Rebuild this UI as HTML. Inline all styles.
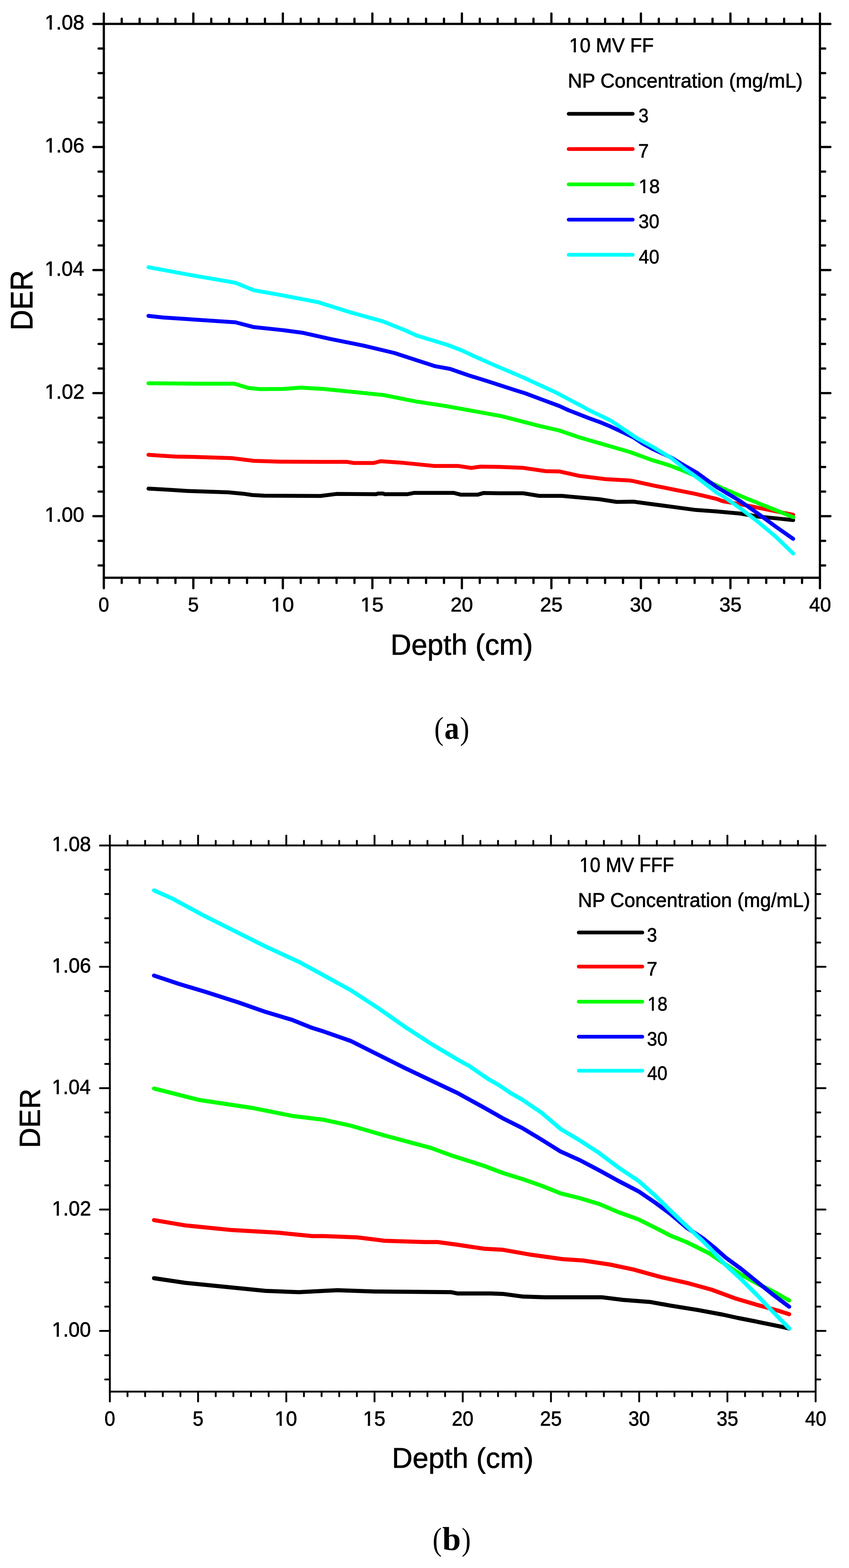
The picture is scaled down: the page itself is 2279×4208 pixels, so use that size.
<!DOCTYPE html><html><head><meta charset="utf-8"><title>DER vs Depth</title><style>html,body{margin:0;padding:0;background:#fff;}svg{display:block;}text{fill:#000;}</style></head><body>
<svg width="2279" height="4208" viewBox="0 0 2279 4208">
<rect width="2279" height="4208" fill="#fff"/>
<line x1="278.70" y1="1550.49" x2="278.70" y2="1578.49" stroke="#000" stroke-width="6.0" stroke-linecap="round"/>
<line x1="278.70" y1="64.13" x2="278.70" y2="36.13" stroke="#000" stroke-width="6.0" stroke-linecap="round"/>
<line x1="326.76" y1="1550.49" x2="326.76" y2="1564.49" stroke="#000" stroke-width="6.0" stroke-linecap="round"/>
<line x1="326.76" y1="64.13" x2="326.76" y2="50.13" stroke="#000" stroke-width="6.0" stroke-linecap="round"/>
<line x1="374.81" y1="1550.49" x2="374.81" y2="1564.49" stroke="#000" stroke-width="6.0" stroke-linecap="round"/>
<line x1="374.81" y1="64.13" x2="374.81" y2="50.13" stroke="#000" stroke-width="6.0" stroke-linecap="round"/>
<line x1="422.87" y1="1550.49" x2="422.87" y2="1564.49" stroke="#000" stroke-width="6.0" stroke-linecap="round"/>
<line x1="422.87" y1="64.13" x2="422.87" y2="50.13" stroke="#000" stroke-width="6.0" stroke-linecap="round"/>
<line x1="470.93" y1="1550.49" x2="470.93" y2="1564.49" stroke="#000" stroke-width="6.0" stroke-linecap="round"/>
<line x1="470.93" y1="64.13" x2="470.93" y2="50.13" stroke="#000" stroke-width="6.0" stroke-linecap="round"/>
<line x1="518.99" y1="1550.49" x2="518.99" y2="1578.49" stroke="#000" stroke-width="6.0" stroke-linecap="round"/>
<line x1="518.99" y1="64.13" x2="518.99" y2="36.13" stroke="#000" stroke-width="6.0" stroke-linecap="round"/>
<line x1="567.04" y1="1550.49" x2="567.04" y2="1564.49" stroke="#000" stroke-width="6.0" stroke-linecap="round"/>
<line x1="567.04" y1="64.13" x2="567.04" y2="50.13" stroke="#000" stroke-width="6.0" stroke-linecap="round"/>
<line x1="615.10" y1="1550.49" x2="615.10" y2="1564.49" stroke="#000" stroke-width="6.0" stroke-linecap="round"/>
<line x1="615.10" y1="64.13" x2="615.10" y2="50.13" stroke="#000" stroke-width="6.0" stroke-linecap="round"/>
<line x1="663.16" y1="1550.49" x2="663.16" y2="1564.49" stroke="#000" stroke-width="6.0" stroke-linecap="round"/>
<line x1="663.16" y1="64.13" x2="663.16" y2="50.13" stroke="#000" stroke-width="6.0" stroke-linecap="round"/>
<line x1="711.22" y1="1550.49" x2="711.22" y2="1564.49" stroke="#000" stroke-width="6.0" stroke-linecap="round"/>
<line x1="711.22" y1="64.13" x2="711.22" y2="50.13" stroke="#000" stroke-width="6.0" stroke-linecap="round"/>
<line x1="759.27" y1="1550.49" x2="759.27" y2="1578.49" stroke="#000" stroke-width="6.0" stroke-linecap="round"/>
<line x1="759.27" y1="64.13" x2="759.27" y2="36.13" stroke="#000" stroke-width="6.0" stroke-linecap="round"/>
<line x1="807.33" y1="1550.49" x2="807.33" y2="1564.49" stroke="#000" stroke-width="6.0" stroke-linecap="round"/>
<line x1="807.33" y1="64.13" x2="807.33" y2="50.13" stroke="#000" stroke-width="6.0" stroke-linecap="round"/>
<line x1="855.39" y1="1550.49" x2="855.39" y2="1564.49" stroke="#000" stroke-width="6.0" stroke-linecap="round"/>
<line x1="855.39" y1="64.13" x2="855.39" y2="50.13" stroke="#000" stroke-width="6.0" stroke-linecap="round"/>
<line x1="903.45" y1="1550.49" x2="903.45" y2="1564.49" stroke="#000" stroke-width="6.0" stroke-linecap="round"/>
<line x1="903.45" y1="64.13" x2="903.45" y2="50.13" stroke="#000" stroke-width="6.0" stroke-linecap="round"/>
<line x1="951.51" y1="1550.49" x2="951.51" y2="1564.49" stroke="#000" stroke-width="6.0" stroke-linecap="round"/>
<line x1="951.51" y1="64.13" x2="951.51" y2="50.13" stroke="#000" stroke-width="6.0" stroke-linecap="round"/>
<line x1="999.56" y1="1550.49" x2="999.56" y2="1578.49" stroke="#000" stroke-width="6.0" stroke-linecap="round"/>
<line x1="999.56" y1="64.13" x2="999.56" y2="36.13" stroke="#000" stroke-width="6.0" stroke-linecap="round"/>
<line x1="1047.62" y1="1550.49" x2="1047.62" y2="1564.49" stroke="#000" stroke-width="6.0" stroke-linecap="round"/>
<line x1="1047.62" y1="64.13" x2="1047.62" y2="50.13" stroke="#000" stroke-width="6.0" stroke-linecap="round"/>
<line x1="1095.68" y1="1550.49" x2="1095.68" y2="1564.49" stroke="#000" stroke-width="6.0" stroke-linecap="round"/>
<line x1="1095.68" y1="64.13" x2="1095.68" y2="50.13" stroke="#000" stroke-width="6.0" stroke-linecap="round"/>
<line x1="1143.74" y1="1550.49" x2="1143.74" y2="1564.49" stroke="#000" stroke-width="6.0" stroke-linecap="round"/>
<line x1="1143.74" y1="64.13" x2="1143.74" y2="50.13" stroke="#000" stroke-width="6.0" stroke-linecap="round"/>
<line x1="1191.79" y1="1550.49" x2="1191.79" y2="1564.49" stroke="#000" stroke-width="6.0" stroke-linecap="round"/>
<line x1="1191.79" y1="64.13" x2="1191.79" y2="50.13" stroke="#000" stroke-width="6.0" stroke-linecap="round"/>
<line x1="1239.85" y1="1550.49" x2="1239.85" y2="1578.49" stroke="#000" stroke-width="6.0" stroke-linecap="round"/>
<line x1="1239.85" y1="64.13" x2="1239.85" y2="36.13" stroke="#000" stroke-width="6.0" stroke-linecap="round"/>
<line x1="1287.91" y1="1550.49" x2="1287.91" y2="1564.49" stroke="#000" stroke-width="6.0" stroke-linecap="round"/>
<line x1="1287.91" y1="64.13" x2="1287.91" y2="50.13" stroke="#000" stroke-width="6.0" stroke-linecap="round"/>
<line x1="1335.96" y1="1550.49" x2="1335.96" y2="1564.49" stroke="#000" stroke-width="6.0" stroke-linecap="round"/>
<line x1="1335.96" y1="64.13" x2="1335.96" y2="50.13" stroke="#000" stroke-width="6.0" stroke-linecap="round"/>
<line x1="1384.02" y1="1550.49" x2="1384.02" y2="1564.49" stroke="#000" stroke-width="6.0" stroke-linecap="round"/>
<line x1="1384.02" y1="64.13" x2="1384.02" y2="50.13" stroke="#000" stroke-width="6.0" stroke-linecap="round"/>
<line x1="1432.08" y1="1550.49" x2="1432.08" y2="1564.49" stroke="#000" stroke-width="6.0" stroke-linecap="round"/>
<line x1="1432.08" y1="64.13" x2="1432.08" y2="50.13" stroke="#000" stroke-width="6.0" stroke-linecap="round"/>
<line x1="1480.14" y1="1550.49" x2="1480.14" y2="1578.49" stroke="#000" stroke-width="6.0" stroke-linecap="round"/>
<line x1="1480.14" y1="64.13" x2="1480.14" y2="36.13" stroke="#000" stroke-width="6.0" stroke-linecap="round"/>
<line x1="1528.19" y1="1550.49" x2="1528.19" y2="1564.49" stroke="#000" stroke-width="6.0" stroke-linecap="round"/>
<line x1="1528.19" y1="64.13" x2="1528.19" y2="50.13" stroke="#000" stroke-width="6.0" stroke-linecap="round"/>
<line x1="1576.25" y1="1550.49" x2="1576.25" y2="1564.49" stroke="#000" stroke-width="6.0" stroke-linecap="round"/>
<line x1="1576.25" y1="64.13" x2="1576.25" y2="50.13" stroke="#000" stroke-width="6.0" stroke-linecap="round"/>
<line x1="1624.31" y1="1550.49" x2="1624.31" y2="1564.49" stroke="#000" stroke-width="6.0" stroke-linecap="round"/>
<line x1="1624.31" y1="64.13" x2="1624.31" y2="50.13" stroke="#000" stroke-width="6.0" stroke-linecap="round"/>
<line x1="1672.37" y1="1550.49" x2="1672.37" y2="1564.49" stroke="#000" stroke-width="6.0" stroke-linecap="round"/>
<line x1="1672.37" y1="64.13" x2="1672.37" y2="50.13" stroke="#000" stroke-width="6.0" stroke-linecap="round"/>
<line x1="1720.42" y1="1550.49" x2="1720.42" y2="1578.49" stroke="#000" stroke-width="6.0" stroke-linecap="round"/>
<line x1="1720.42" y1="64.13" x2="1720.42" y2="36.13" stroke="#000" stroke-width="6.0" stroke-linecap="round"/>
<line x1="1768.48" y1="1550.49" x2="1768.48" y2="1564.49" stroke="#000" stroke-width="6.0" stroke-linecap="round"/>
<line x1="1768.48" y1="64.13" x2="1768.48" y2="50.13" stroke="#000" stroke-width="6.0" stroke-linecap="round"/>
<line x1="1816.54" y1="1550.49" x2="1816.54" y2="1564.49" stroke="#000" stroke-width="6.0" stroke-linecap="round"/>
<line x1="1816.54" y1="64.13" x2="1816.54" y2="50.13" stroke="#000" stroke-width="6.0" stroke-linecap="round"/>
<line x1="1864.60" y1="1550.49" x2="1864.60" y2="1564.49" stroke="#000" stroke-width="6.0" stroke-linecap="round"/>
<line x1="1864.60" y1="64.13" x2="1864.60" y2="50.13" stroke="#000" stroke-width="6.0" stroke-linecap="round"/>
<line x1="1912.65" y1="1550.49" x2="1912.65" y2="1564.49" stroke="#000" stroke-width="6.0" stroke-linecap="round"/>
<line x1="1912.65" y1="64.13" x2="1912.65" y2="50.13" stroke="#000" stroke-width="6.0" stroke-linecap="round"/>
<line x1="1960.71" y1="1550.49" x2="1960.71" y2="1578.49" stroke="#000" stroke-width="6.0" stroke-linecap="round"/>
<line x1="1960.71" y1="64.13" x2="1960.71" y2="36.13" stroke="#000" stroke-width="6.0" stroke-linecap="round"/>
<line x1="2008.77" y1="1550.49" x2="2008.77" y2="1564.49" stroke="#000" stroke-width="6.0" stroke-linecap="round"/>
<line x1="2008.77" y1="64.13" x2="2008.77" y2="50.13" stroke="#000" stroke-width="6.0" stroke-linecap="round"/>
<line x1="2056.83" y1="1550.49" x2="2056.83" y2="1564.49" stroke="#000" stroke-width="6.0" stroke-linecap="round"/>
<line x1="2056.83" y1="64.13" x2="2056.83" y2="50.13" stroke="#000" stroke-width="6.0" stroke-linecap="round"/>
<line x1="2104.88" y1="1550.49" x2="2104.88" y2="1564.49" stroke="#000" stroke-width="6.0" stroke-linecap="round"/>
<line x1="2104.88" y1="64.13" x2="2104.88" y2="50.13" stroke="#000" stroke-width="6.0" stroke-linecap="round"/>
<line x1="2152.94" y1="1550.49" x2="2152.94" y2="1564.49" stroke="#000" stroke-width="6.0" stroke-linecap="round"/>
<line x1="2152.94" y1="64.13" x2="2152.94" y2="50.13" stroke="#000" stroke-width="6.0" stroke-linecap="round"/>
<line x1="2201.00" y1="1550.49" x2="2201.00" y2="1578.49" stroke="#000" stroke-width="6.0" stroke-linecap="round"/>
<line x1="2201.00" y1="64.13" x2="2201.00" y2="36.13" stroke="#000" stroke-width="6.0" stroke-linecap="round"/>
<line x1="278.70" y1="1517.46" x2="264.70" y2="1517.46" stroke="#000" stroke-width="6.0" stroke-linecap="round"/>
<line x1="2201.00" y1="1517.46" x2="2215.00" y2="1517.46" stroke="#000" stroke-width="6.0" stroke-linecap="round"/>
<line x1="278.70" y1="1451.40" x2="264.70" y2="1451.40" stroke="#000" stroke-width="6.0" stroke-linecap="round"/>
<line x1="2201.00" y1="1451.40" x2="2215.00" y2="1451.40" stroke="#000" stroke-width="6.0" stroke-linecap="round"/>
<line x1="278.70" y1="1385.34" x2="250.70" y2="1385.34" stroke="#000" stroke-width="6.0" stroke-linecap="round"/>
<line x1="2201.00" y1="1385.34" x2="2229.00" y2="1385.34" stroke="#000" stroke-width="6.0" stroke-linecap="round"/>
<line x1="278.70" y1="1319.28" x2="264.70" y2="1319.28" stroke="#000" stroke-width="6.0" stroke-linecap="round"/>
<line x1="2201.00" y1="1319.28" x2="2215.00" y2="1319.28" stroke="#000" stroke-width="6.0" stroke-linecap="round"/>
<line x1="278.70" y1="1253.22" x2="264.70" y2="1253.22" stroke="#000" stroke-width="6.0" stroke-linecap="round"/>
<line x1="2201.00" y1="1253.22" x2="2215.00" y2="1253.22" stroke="#000" stroke-width="6.0" stroke-linecap="round"/>
<line x1="278.70" y1="1187.16" x2="264.70" y2="1187.16" stroke="#000" stroke-width="6.0" stroke-linecap="round"/>
<line x1="2201.00" y1="1187.16" x2="2215.00" y2="1187.16" stroke="#000" stroke-width="6.0" stroke-linecap="round"/>
<line x1="278.70" y1="1121.10" x2="264.70" y2="1121.10" stroke="#000" stroke-width="6.0" stroke-linecap="round"/>
<line x1="2201.00" y1="1121.10" x2="2215.00" y2="1121.10" stroke="#000" stroke-width="6.0" stroke-linecap="round"/>
<line x1="278.70" y1="1055.04" x2="250.70" y2="1055.04" stroke="#000" stroke-width="6.0" stroke-linecap="round"/>
<line x1="2201.00" y1="1055.04" x2="2229.00" y2="1055.04" stroke="#000" stroke-width="6.0" stroke-linecap="round"/>
<line x1="278.70" y1="988.98" x2="264.70" y2="988.98" stroke="#000" stroke-width="6.0" stroke-linecap="round"/>
<line x1="2201.00" y1="988.98" x2="2215.00" y2="988.98" stroke="#000" stroke-width="6.0" stroke-linecap="round"/>
<line x1="278.70" y1="922.92" x2="264.70" y2="922.92" stroke="#000" stroke-width="6.0" stroke-linecap="round"/>
<line x1="2201.00" y1="922.92" x2="2215.00" y2="922.92" stroke="#000" stroke-width="6.0" stroke-linecap="round"/>
<line x1="278.70" y1="856.86" x2="264.70" y2="856.86" stroke="#000" stroke-width="6.0" stroke-linecap="round"/>
<line x1="2201.00" y1="856.86" x2="2215.00" y2="856.86" stroke="#000" stroke-width="6.0" stroke-linecap="round"/>
<line x1="278.70" y1="790.80" x2="264.70" y2="790.80" stroke="#000" stroke-width="6.0" stroke-linecap="round"/>
<line x1="2201.00" y1="790.80" x2="2215.00" y2="790.80" stroke="#000" stroke-width="6.0" stroke-linecap="round"/>
<line x1="278.70" y1="724.74" x2="250.70" y2="724.74" stroke="#000" stroke-width="6.0" stroke-linecap="round"/>
<line x1="2201.00" y1="724.74" x2="2229.00" y2="724.74" stroke="#000" stroke-width="6.0" stroke-linecap="round"/>
<line x1="278.70" y1="658.68" x2="264.70" y2="658.68" stroke="#000" stroke-width="6.0" stroke-linecap="round"/>
<line x1="2201.00" y1="658.68" x2="2215.00" y2="658.68" stroke="#000" stroke-width="6.0" stroke-linecap="round"/>
<line x1="278.70" y1="592.62" x2="264.70" y2="592.62" stroke="#000" stroke-width="6.0" stroke-linecap="round"/>
<line x1="2201.00" y1="592.62" x2="2215.00" y2="592.62" stroke="#000" stroke-width="6.0" stroke-linecap="round"/>
<line x1="278.70" y1="526.56" x2="264.70" y2="526.56" stroke="#000" stroke-width="6.0" stroke-linecap="round"/>
<line x1="2201.00" y1="526.56" x2="2215.00" y2="526.56" stroke="#000" stroke-width="6.0" stroke-linecap="round"/>
<line x1="278.70" y1="460.50" x2="264.70" y2="460.50" stroke="#000" stroke-width="6.0" stroke-linecap="round"/>
<line x1="2201.00" y1="460.50" x2="2215.00" y2="460.50" stroke="#000" stroke-width="6.0" stroke-linecap="round"/>
<line x1="278.70" y1="394.44" x2="250.70" y2="394.44" stroke="#000" stroke-width="6.0" stroke-linecap="round"/>
<line x1="2201.00" y1="394.44" x2="2229.00" y2="394.44" stroke="#000" stroke-width="6.0" stroke-linecap="round"/>
<line x1="278.70" y1="328.38" x2="264.70" y2="328.38" stroke="#000" stroke-width="6.0" stroke-linecap="round"/>
<line x1="2201.00" y1="328.38" x2="2215.00" y2="328.38" stroke="#000" stroke-width="6.0" stroke-linecap="round"/>
<line x1="278.70" y1="262.32" x2="264.70" y2="262.32" stroke="#000" stroke-width="6.0" stroke-linecap="round"/>
<line x1="2201.00" y1="262.32" x2="2215.00" y2="262.32" stroke="#000" stroke-width="6.0" stroke-linecap="round"/>
<line x1="278.70" y1="196.25" x2="264.70" y2="196.25" stroke="#000" stroke-width="6.0" stroke-linecap="round"/>
<line x1="2201.00" y1="196.25" x2="2215.00" y2="196.25" stroke="#000" stroke-width="6.0" stroke-linecap="round"/>
<line x1="278.70" y1="130.19" x2="264.70" y2="130.19" stroke="#000" stroke-width="6.0" stroke-linecap="round"/>
<line x1="2201.00" y1="130.19" x2="2215.00" y2="130.19" stroke="#000" stroke-width="6.0" stroke-linecap="round"/>
<line x1="278.70" y1="64.13" x2="250.70" y2="64.13" stroke="#000" stroke-width="6.0" stroke-linecap="round"/>
<line x1="2201.00" y1="64.13" x2="2229.00" y2="64.13" stroke="#000" stroke-width="6.0" stroke-linecap="round"/>
<rect x="278.70" y="64.13" width="1922.30" height="1486.36" fill="none" stroke="#000" stroke-width="6.0"/>
<polyline points="398.5,1311.3 451.7,1314.2 505.4,1317.7 613.0,1321.3 652.4,1324.9 677.5,1328.5 709.7,1330.3 860.0,1331.0 903.0,1325.6 1010.5,1326.2 1015.0,1324.4 1028.0,1324.4 1033.0,1326.3 1093.0,1326.3 1110.9,1322.8 1218.4,1322.8 1236.3,1327.4 1283.0,1327.4 1297.3,1323.1 1340.0,1323.7 1404.5,1323.7 1447.5,1330.8 1508.5,1330.8 1608.8,1339.8 1655.4,1347.0 1700.0,1346.2 1755.9,1353.7 1811.8,1361.1 1867.8,1368.6 1923.7,1372.5 1940.0,1374.0 1987.3,1378.3 2034.6,1386.2 2081.9,1390.9 2129.2,1395.7" fill="none" stroke="#000000" stroke-width="10.5" stroke-linejoin="round" stroke-linecap="round"/>
<polyline points="398.5,1220.6 415.8,1221.7 469.6,1225.3 523.4,1226.3 623.7,1229.6 681.1,1236.7 752.8,1238.9 860.0,1239.6 931.7,1239.6 949.6,1242.5 1003.4,1242.5 1021.3,1237.8 1075.0,1241.4 1164.7,1250.4 1229.2,1250.4 1265.0,1255.7 1290.1,1252.2 1340.0,1253.0 1404.5,1255.6 1465.4,1264.5 1501.3,1265.2 1555.0,1277.1 1626.7,1286.0 1691.3,1289.6 1700.0,1291.2 1755.9,1303.3 1811.8,1314.5 1867.8,1325.7 1923.7,1338.8 1940.0,1345.0 2003.1,1356.2 2066.2,1368.9 2129.2,1381.5" fill="none" stroke="#ff0000" stroke-width="10.5" stroke-linejoin="round" stroke-linecap="round"/>
<polyline points="398.5,1028.5 537.7,1029.8 629.5,1029.8 666.7,1041.3 698.3,1044.2 760.0,1043.8 806.6,1040.2 867.5,1043.8 957.1,1052.8 1028.8,1060.0 1118.4,1077.8 1190.1,1088.6 1240.0,1097.5 1347.5,1117.2 1445.0,1142.3 1500.0,1155.0 1556.0,1174.0 1611.8,1190.1 1640.0,1198.2 1691.6,1213.2 1750.0,1234.6 1793.0,1247.5 1836.0,1263.9 1905.0,1294.0 1940.0,1310.5 2003.1,1337.3 2066.2,1362.5 2129.2,1387.8" fill="none" stroke="#00ff00" stroke-width="10.5" stroke-linejoin="round" stroke-linecap="round"/>
<polyline points="398.5,847.7 437.3,852.0 632.3,865.0 681.1,877.8 760.0,886.1 813.8,893.3 885.4,909.4 975.0,927.3 1057.5,947.0 1118.4,966.7 1168.6,982.9 1208.0,990.0 1260.0,1008.0 1311.7,1024.0 1383.4,1047.3 1410.0,1055.5 1455.0,1072.4 1500.0,1089.0 1526.7,1101.1 1580.0,1121.9 1610.0,1132.7 1640.0,1145.2 1674.4,1161.2 1700.2,1173.7 1726.0,1190.9 1750.0,1204.0 1801.6,1228.0 1836.0,1248.8 1870.0,1268.2 1923.7,1307.1 1940.0,1316.8 1987.3,1345.0 2034.6,1378.3 2081.9,1413.0 2129.2,1446.1" fill="none" stroke="#0000ff" stroke-width="10.5" stroke-linejoin="round" stroke-linecap="round"/>
<polyline points="398.5,717.2 523.4,740.2 632.3,758.9 681.1,778.9 760.0,792.9 853.2,810.8 939.2,837.7 1028.8,862.8 1082.6,884.3 1118.4,900.4 1200.9,925.5 1240.0,940.5 1268.7,954.1 1329.6,981.0 1401.3,1011.5 1490.9,1052.7 1562.6,1090.3 1580.0,1100.2 1610.0,1114.4 1640.0,1129.0 1674.4,1152.2 1708.8,1175.4 1750.0,1198.0 1801.6,1229.0 1836.0,1256.6 1870.0,1280.6 1923.7,1322.0 1940.0,1331.0 1987.3,1364.1 2034.6,1400.4 2081.9,1439.8 2129.2,1485.6" fill="none" stroke="#00ffff" stroke-width="10.5" stroke-linejoin="round" stroke-linecap="round"/>
<line x1="1526.50" y1="305.50" x2="1698.50" y2="305.50" stroke="#000000" stroke-width="10" stroke-linecap="round"/>
<line x1="1526.50" y1="400.10" x2="1698.50" y2="400.10" stroke="#ff0000" stroke-width="10" stroke-linecap="round"/>
<line x1="1526.50" y1="494.80" x2="1698.50" y2="494.80" stroke="#00ff00" stroke-width="10" stroke-linecap="round"/>
<line x1="1526.50" y1="589.50" x2="1698.50" y2="589.50" stroke="#0000ff" stroke-width="10" stroke-linecap="round"/>
<line x1="1526.50" y1="683.70" x2="1698.50" y2="683.70" stroke="#00ffff" stroke-width="10" stroke-linecap="round"/>
<line x1="294.90" y1="3734.62" x2="294.90" y2="3761.12" stroke="#000" stroke-width="5.0" stroke-linecap="round"/>
<line x1="294.90" y1="2268.89" x2="294.90" y2="2242.39" stroke="#000" stroke-width="5.0" stroke-linecap="round"/>
<line x1="342.26" y1="3734.62" x2="342.26" y2="3747.12" stroke="#000" stroke-width="5.0" stroke-linecap="round"/>
<line x1="342.26" y1="2268.89" x2="342.26" y2="2256.39" stroke="#000" stroke-width="5.0" stroke-linecap="round"/>
<line x1="389.62" y1="3734.62" x2="389.62" y2="3747.12" stroke="#000" stroke-width="5.0" stroke-linecap="round"/>
<line x1="389.62" y1="2268.89" x2="389.62" y2="2256.39" stroke="#000" stroke-width="5.0" stroke-linecap="round"/>
<line x1="436.99" y1="3734.62" x2="436.99" y2="3747.12" stroke="#000" stroke-width="5.0" stroke-linecap="round"/>
<line x1="436.99" y1="2268.89" x2="436.99" y2="2256.39" stroke="#000" stroke-width="5.0" stroke-linecap="round"/>
<line x1="484.35" y1="3734.62" x2="484.35" y2="3747.12" stroke="#000" stroke-width="5.0" stroke-linecap="round"/>
<line x1="484.35" y1="2268.89" x2="484.35" y2="2256.39" stroke="#000" stroke-width="5.0" stroke-linecap="round"/>
<line x1="531.71" y1="3734.62" x2="531.71" y2="3761.12" stroke="#000" stroke-width="5.0" stroke-linecap="round"/>
<line x1="531.71" y1="2268.89" x2="531.71" y2="2242.39" stroke="#000" stroke-width="5.0" stroke-linecap="round"/>
<line x1="579.08" y1="3734.62" x2="579.08" y2="3747.12" stroke="#000" stroke-width="5.0" stroke-linecap="round"/>
<line x1="579.08" y1="2268.89" x2="579.08" y2="2256.39" stroke="#000" stroke-width="5.0" stroke-linecap="round"/>
<line x1="626.44" y1="3734.62" x2="626.44" y2="3747.12" stroke="#000" stroke-width="5.0" stroke-linecap="round"/>
<line x1="626.44" y1="2268.89" x2="626.44" y2="2256.39" stroke="#000" stroke-width="5.0" stroke-linecap="round"/>
<line x1="673.80" y1="3734.62" x2="673.80" y2="3747.12" stroke="#000" stroke-width="5.0" stroke-linecap="round"/>
<line x1="673.80" y1="2268.89" x2="673.80" y2="2256.39" stroke="#000" stroke-width="5.0" stroke-linecap="round"/>
<line x1="721.16" y1="3734.62" x2="721.16" y2="3747.12" stroke="#000" stroke-width="5.0" stroke-linecap="round"/>
<line x1="721.16" y1="2268.89" x2="721.16" y2="2256.39" stroke="#000" stroke-width="5.0" stroke-linecap="round"/>
<line x1="768.52" y1="3734.62" x2="768.52" y2="3761.12" stroke="#000" stroke-width="5.0" stroke-linecap="round"/>
<line x1="768.52" y1="2268.89" x2="768.52" y2="2242.39" stroke="#000" stroke-width="5.0" stroke-linecap="round"/>
<line x1="815.89" y1="3734.62" x2="815.89" y2="3747.12" stroke="#000" stroke-width="5.0" stroke-linecap="round"/>
<line x1="815.89" y1="2268.89" x2="815.89" y2="2256.39" stroke="#000" stroke-width="5.0" stroke-linecap="round"/>
<line x1="863.25" y1="3734.62" x2="863.25" y2="3747.12" stroke="#000" stroke-width="5.0" stroke-linecap="round"/>
<line x1="863.25" y1="2268.89" x2="863.25" y2="2256.39" stroke="#000" stroke-width="5.0" stroke-linecap="round"/>
<line x1="910.61" y1="3734.62" x2="910.61" y2="3747.12" stroke="#000" stroke-width="5.0" stroke-linecap="round"/>
<line x1="910.61" y1="2268.89" x2="910.61" y2="2256.39" stroke="#000" stroke-width="5.0" stroke-linecap="round"/>
<line x1="957.98" y1="3734.62" x2="957.98" y2="3747.12" stroke="#000" stroke-width="5.0" stroke-linecap="round"/>
<line x1="957.98" y1="2268.89" x2="957.98" y2="2256.39" stroke="#000" stroke-width="5.0" stroke-linecap="round"/>
<line x1="1005.34" y1="3734.62" x2="1005.34" y2="3761.12" stroke="#000" stroke-width="5.0" stroke-linecap="round"/>
<line x1="1005.34" y1="2268.89" x2="1005.34" y2="2242.39" stroke="#000" stroke-width="5.0" stroke-linecap="round"/>
<line x1="1052.70" y1="3734.62" x2="1052.70" y2="3747.12" stroke="#000" stroke-width="5.0" stroke-linecap="round"/>
<line x1="1052.70" y1="2268.89" x2="1052.70" y2="2256.39" stroke="#000" stroke-width="5.0" stroke-linecap="round"/>
<line x1="1100.06" y1="3734.62" x2="1100.06" y2="3747.12" stroke="#000" stroke-width="5.0" stroke-linecap="round"/>
<line x1="1100.06" y1="2268.89" x2="1100.06" y2="2256.39" stroke="#000" stroke-width="5.0" stroke-linecap="round"/>
<line x1="1147.42" y1="3734.62" x2="1147.42" y2="3747.12" stroke="#000" stroke-width="5.0" stroke-linecap="round"/>
<line x1="1147.42" y1="2268.89" x2="1147.42" y2="2256.39" stroke="#000" stroke-width="5.0" stroke-linecap="round"/>
<line x1="1194.79" y1="3734.62" x2="1194.79" y2="3747.12" stroke="#000" stroke-width="5.0" stroke-linecap="round"/>
<line x1="1194.79" y1="2268.89" x2="1194.79" y2="2256.39" stroke="#000" stroke-width="5.0" stroke-linecap="round"/>
<line x1="1242.15" y1="3734.62" x2="1242.15" y2="3761.12" stroke="#000" stroke-width="5.0" stroke-linecap="round"/>
<line x1="1242.15" y1="2268.89" x2="1242.15" y2="2242.39" stroke="#000" stroke-width="5.0" stroke-linecap="round"/>
<line x1="1289.51" y1="3734.62" x2="1289.51" y2="3747.12" stroke="#000" stroke-width="5.0" stroke-linecap="round"/>
<line x1="1289.51" y1="2268.89" x2="1289.51" y2="2256.39" stroke="#000" stroke-width="5.0" stroke-linecap="round"/>
<line x1="1336.88" y1="3734.62" x2="1336.88" y2="3747.12" stroke="#000" stroke-width="5.0" stroke-linecap="round"/>
<line x1="1336.88" y1="2268.89" x2="1336.88" y2="2256.39" stroke="#000" stroke-width="5.0" stroke-linecap="round"/>
<line x1="1384.24" y1="3734.62" x2="1384.24" y2="3747.12" stroke="#000" stroke-width="5.0" stroke-linecap="round"/>
<line x1="1384.24" y1="2268.89" x2="1384.24" y2="2256.39" stroke="#000" stroke-width="5.0" stroke-linecap="round"/>
<line x1="1431.60" y1="3734.62" x2="1431.60" y2="3747.12" stroke="#000" stroke-width="5.0" stroke-linecap="round"/>
<line x1="1431.60" y1="2268.89" x2="1431.60" y2="2256.39" stroke="#000" stroke-width="5.0" stroke-linecap="round"/>
<line x1="1478.96" y1="3734.62" x2="1478.96" y2="3761.12" stroke="#000" stroke-width="5.0" stroke-linecap="round"/>
<line x1="1478.96" y1="2268.89" x2="1478.96" y2="2242.39" stroke="#000" stroke-width="5.0" stroke-linecap="round"/>
<line x1="1526.32" y1="3734.62" x2="1526.32" y2="3747.12" stroke="#000" stroke-width="5.0" stroke-linecap="round"/>
<line x1="1526.32" y1="2268.89" x2="1526.32" y2="2256.39" stroke="#000" stroke-width="5.0" stroke-linecap="round"/>
<line x1="1573.69" y1="3734.62" x2="1573.69" y2="3747.12" stroke="#000" stroke-width="5.0" stroke-linecap="round"/>
<line x1="1573.69" y1="2268.89" x2="1573.69" y2="2256.39" stroke="#000" stroke-width="5.0" stroke-linecap="round"/>
<line x1="1621.05" y1="3734.62" x2="1621.05" y2="3747.12" stroke="#000" stroke-width="5.0" stroke-linecap="round"/>
<line x1="1621.05" y1="2268.89" x2="1621.05" y2="2256.39" stroke="#000" stroke-width="5.0" stroke-linecap="round"/>
<line x1="1668.41" y1="3734.62" x2="1668.41" y2="3747.12" stroke="#000" stroke-width="5.0" stroke-linecap="round"/>
<line x1="1668.41" y1="2268.89" x2="1668.41" y2="2256.39" stroke="#000" stroke-width="5.0" stroke-linecap="round"/>
<line x1="1715.78" y1="3734.62" x2="1715.78" y2="3761.12" stroke="#000" stroke-width="5.0" stroke-linecap="round"/>
<line x1="1715.78" y1="2268.89" x2="1715.78" y2="2242.39" stroke="#000" stroke-width="5.0" stroke-linecap="round"/>
<line x1="1763.14" y1="3734.62" x2="1763.14" y2="3747.12" stroke="#000" stroke-width="5.0" stroke-linecap="round"/>
<line x1="1763.14" y1="2268.89" x2="1763.14" y2="2256.39" stroke="#000" stroke-width="5.0" stroke-linecap="round"/>
<line x1="1810.50" y1="3734.62" x2="1810.50" y2="3747.12" stroke="#000" stroke-width="5.0" stroke-linecap="round"/>
<line x1="1810.50" y1="2268.89" x2="1810.50" y2="2256.39" stroke="#000" stroke-width="5.0" stroke-linecap="round"/>
<line x1="1857.86" y1="3734.62" x2="1857.86" y2="3747.12" stroke="#000" stroke-width="5.0" stroke-linecap="round"/>
<line x1="1857.86" y1="2268.89" x2="1857.86" y2="2256.39" stroke="#000" stroke-width="5.0" stroke-linecap="round"/>
<line x1="1905.22" y1="3734.62" x2="1905.22" y2="3747.12" stroke="#000" stroke-width="5.0" stroke-linecap="round"/>
<line x1="1905.22" y1="2268.89" x2="1905.22" y2="2256.39" stroke="#000" stroke-width="5.0" stroke-linecap="round"/>
<line x1="1952.59" y1="3734.62" x2="1952.59" y2="3761.12" stroke="#000" stroke-width="5.0" stroke-linecap="round"/>
<line x1="1952.59" y1="2268.89" x2="1952.59" y2="2242.39" stroke="#000" stroke-width="5.0" stroke-linecap="round"/>
<line x1="1999.95" y1="3734.62" x2="1999.95" y2="3747.12" stroke="#000" stroke-width="5.0" stroke-linecap="round"/>
<line x1="1999.95" y1="2268.89" x2="1999.95" y2="2256.39" stroke="#000" stroke-width="5.0" stroke-linecap="round"/>
<line x1="2047.31" y1="3734.62" x2="2047.31" y2="3747.12" stroke="#000" stroke-width="5.0" stroke-linecap="round"/>
<line x1="2047.31" y1="2268.89" x2="2047.31" y2="2256.39" stroke="#000" stroke-width="5.0" stroke-linecap="round"/>
<line x1="2094.68" y1="3734.62" x2="2094.68" y2="3747.12" stroke="#000" stroke-width="5.0" stroke-linecap="round"/>
<line x1="2094.68" y1="2268.89" x2="2094.68" y2="2256.39" stroke="#000" stroke-width="5.0" stroke-linecap="round"/>
<line x1="2142.04" y1="3734.62" x2="2142.04" y2="3747.12" stroke="#000" stroke-width="5.0" stroke-linecap="round"/>
<line x1="2142.04" y1="2268.89" x2="2142.04" y2="2256.39" stroke="#000" stroke-width="5.0" stroke-linecap="round"/>
<line x1="2189.40" y1="3734.62" x2="2189.40" y2="3761.12" stroke="#000" stroke-width="5.0" stroke-linecap="round"/>
<line x1="2189.40" y1="2268.89" x2="2189.40" y2="2242.39" stroke="#000" stroke-width="5.0" stroke-linecap="round"/>
<line x1="294.90" y1="3702.05" x2="282.40" y2="3702.05" stroke="#000" stroke-width="5.0" stroke-linecap="round"/>
<line x1="2189.40" y1="3702.05" x2="2201.90" y2="3702.05" stroke="#000" stroke-width="5.0" stroke-linecap="round"/>
<line x1="294.90" y1="3636.91" x2="282.40" y2="3636.91" stroke="#000" stroke-width="5.0" stroke-linecap="round"/>
<line x1="2189.40" y1="3636.91" x2="2201.90" y2="3636.91" stroke="#000" stroke-width="5.0" stroke-linecap="round"/>
<line x1="294.90" y1="3571.77" x2="268.40" y2="3571.77" stroke="#000" stroke-width="5.0" stroke-linecap="round"/>
<line x1="2189.40" y1="3571.77" x2="2215.90" y2="3571.77" stroke="#000" stroke-width="5.0" stroke-linecap="round"/>
<line x1="294.90" y1="3506.62" x2="282.40" y2="3506.62" stroke="#000" stroke-width="5.0" stroke-linecap="round"/>
<line x1="2189.40" y1="3506.62" x2="2201.90" y2="3506.62" stroke="#000" stroke-width="5.0" stroke-linecap="round"/>
<line x1="294.90" y1="3441.48" x2="282.40" y2="3441.48" stroke="#000" stroke-width="5.0" stroke-linecap="round"/>
<line x1="2189.40" y1="3441.48" x2="2201.90" y2="3441.48" stroke="#000" stroke-width="5.0" stroke-linecap="round"/>
<line x1="294.90" y1="3376.33" x2="282.40" y2="3376.33" stroke="#000" stroke-width="5.0" stroke-linecap="round"/>
<line x1="2189.40" y1="3376.33" x2="2201.90" y2="3376.33" stroke="#000" stroke-width="5.0" stroke-linecap="round"/>
<line x1="294.90" y1="3311.19" x2="282.40" y2="3311.19" stroke="#000" stroke-width="5.0" stroke-linecap="round"/>
<line x1="2189.40" y1="3311.19" x2="2201.90" y2="3311.19" stroke="#000" stroke-width="5.0" stroke-linecap="round"/>
<line x1="294.90" y1="3246.05" x2="268.40" y2="3246.05" stroke="#000" stroke-width="5.0" stroke-linecap="round"/>
<line x1="2189.40" y1="3246.05" x2="2215.90" y2="3246.05" stroke="#000" stroke-width="5.0" stroke-linecap="round"/>
<line x1="294.90" y1="3180.90" x2="282.40" y2="3180.90" stroke="#000" stroke-width="5.0" stroke-linecap="round"/>
<line x1="2189.40" y1="3180.90" x2="2201.90" y2="3180.90" stroke="#000" stroke-width="5.0" stroke-linecap="round"/>
<line x1="294.90" y1="3115.76" x2="282.40" y2="3115.76" stroke="#000" stroke-width="5.0" stroke-linecap="round"/>
<line x1="2189.40" y1="3115.76" x2="2201.90" y2="3115.76" stroke="#000" stroke-width="5.0" stroke-linecap="round"/>
<line x1="294.90" y1="3050.61" x2="282.40" y2="3050.61" stroke="#000" stroke-width="5.0" stroke-linecap="round"/>
<line x1="2189.40" y1="3050.61" x2="2201.90" y2="3050.61" stroke="#000" stroke-width="5.0" stroke-linecap="round"/>
<line x1="294.90" y1="2985.47" x2="282.40" y2="2985.47" stroke="#000" stroke-width="5.0" stroke-linecap="round"/>
<line x1="2189.40" y1="2985.47" x2="2201.90" y2="2985.47" stroke="#000" stroke-width="5.0" stroke-linecap="round"/>
<line x1="294.90" y1="2920.33" x2="268.40" y2="2920.33" stroke="#000" stroke-width="5.0" stroke-linecap="round"/>
<line x1="2189.40" y1="2920.33" x2="2215.90" y2="2920.33" stroke="#000" stroke-width="5.0" stroke-linecap="round"/>
<line x1="294.90" y1="2855.18" x2="282.40" y2="2855.18" stroke="#000" stroke-width="5.0" stroke-linecap="round"/>
<line x1="2189.40" y1="2855.18" x2="2201.90" y2="2855.18" stroke="#000" stroke-width="5.0" stroke-linecap="round"/>
<line x1="294.90" y1="2790.04" x2="282.40" y2="2790.04" stroke="#000" stroke-width="5.0" stroke-linecap="round"/>
<line x1="2189.40" y1="2790.04" x2="2201.90" y2="2790.04" stroke="#000" stroke-width="5.0" stroke-linecap="round"/>
<line x1="294.90" y1="2724.89" x2="282.40" y2="2724.89" stroke="#000" stroke-width="5.0" stroke-linecap="round"/>
<line x1="2189.40" y1="2724.89" x2="2201.90" y2="2724.89" stroke="#000" stroke-width="5.0" stroke-linecap="round"/>
<line x1="294.90" y1="2659.75" x2="282.40" y2="2659.75" stroke="#000" stroke-width="5.0" stroke-linecap="round"/>
<line x1="2189.40" y1="2659.75" x2="2201.90" y2="2659.75" stroke="#000" stroke-width="5.0" stroke-linecap="round"/>
<line x1="294.90" y1="2594.61" x2="268.40" y2="2594.61" stroke="#000" stroke-width="5.0" stroke-linecap="round"/>
<line x1="2189.40" y1="2594.61" x2="2215.90" y2="2594.61" stroke="#000" stroke-width="5.0" stroke-linecap="round"/>
<line x1="294.90" y1="2529.46" x2="282.40" y2="2529.46" stroke="#000" stroke-width="5.0" stroke-linecap="round"/>
<line x1="2189.40" y1="2529.46" x2="2201.90" y2="2529.46" stroke="#000" stroke-width="5.0" stroke-linecap="round"/>
<line x1="294.90" y1="2464.32" x2="282.40" y2="2464.32" stroke="#000" stroke-width="5.0" stroke-linecap="round"/>
<line x1="2189.40" y1="2464.32" x2="2201.90" y2="2464.32" stroke="#000" stroke-width="5.0" stroke-linecap="round"/>
<line x1="294.90" y1="2399.17" x2="282.40" y2="2399.17" stroke="#000" stroke-width="5.0" stroke-linecap="round"/>
<line x1="2189.40" y1="2399.17" x2="2201.90" y2="2399.17" stroke="#000" stroke-width="5.0" stroke-linecap="round"/>
<line x1="294.90" y1="2334.03" x2="282.40" y2="2334.03" stroke="#000" stroke-width="5.0" stroke-linecap="round"/>
<line x1="2189.40" y1="2334.03" x2="2201.90" y2="2334.03" stroke="#000" stroke-width="5.0" stroke-linecap="round"/>
<line x1="294.90" y1="2268.89" x2="268.40" y2="2268.89" stroke="#000" stroke-width="5.0" stroke-linecap="round"/>
<line x1="2189.40" y1="2268.89" x2="2215.90" y2="2268.89" stroke="#000" stroke-width="5.0" stroke-linecap="round"/>
<rect x="294.90" y="2268.89" width="1894.50" height="1465.74" fill="none" stroke="#000" stroke-width="5.0"/>
<polyline points="413.4,3430.2 497.5,3442.7 605.0,3453.5 712.6,3464.2 802.2,3467.8 870.0,3464.2 905.8,3462.4 1006.2,3466.0 1210.5,3467.7 1228.4,3471.3 1318.0,3471.3 1350.0,3472.4 1403.8,3479.6 1464.7,3481.4 1615.2,3481.4 1672.6,3488.5 1744.3,3493.9 1800.0,3503.9 1871.7,3515.4 1940.0,3528.0 1981.0,3537.0 2022.0,3545.0 2063.0,3553.4 2103.0,3561.6 2118.5,3565.5" fill="none" stroke="#000000" stroke-width="11" stroke-linejoin="round" stroke-linecap="round"/>
<polyline points="413.4,3274.3 497.5,3288.6 623.0,3301.1 748.4,3308.3 838.0,3317.3 870.0,3317.2 959.6,3320.8 1031.3,3329.7 1138.8,3333.3 1174.7,3333.3 1228.4,3340.5 1300.1,3351.3 1350.0,3354.1 1421.7,3366.7 1511.3,3379.2 1565.1,3382.8 1636.7,3393.5 1700.0,3406.9 1774.6,3427.4 1849.1,3444.2 1910.0,3461.0 1972.0,3483.9 2029.4,3501.1 2086.7,3516.8 2118.5,3526.9" fill="none" stroke="#ff0000" stroke-width="11" stroke-linejoin="round" stroke-linecap="round"/>
<polyline points="413.4,2921.2 533.4,2951.7 676.7,2973.2 784.3,2994.7 870.0,3005.3 941.7,3021.0 1031.3,3047.0 1156.7,3080.6 1210.5,3100.4 1300.1,3129.0 1350.0,3148.0 1401.6,3163.9 1453.2,3181.9 1504.8,3202.6 1556.5,3215.5 1608.1,3231.0 1660.0,3253.0 1714.3,3272.6 1757.3,3294.1 1800.4,3316.3 1843.4,3333.5 1904.3,3363.7 1950.0,3395.0 1990.0,3421.0 2033.0,3445.0 2076.4,3466.2 2118.5,3490.0" fill="none" stroke="#00ff00" stroke-width="11" stroke-linejoin="round" stroke-linecap="round"/>
<polyline points="413.4,2618.1 479.6,2640.3 551.3,2661.8 640.9,2690.5 712.6,2715.6 784.3,2737.1 838.0,2758.6 870.0,2768.6 941.7,2793.7 1013.4,2829.6 1085.0,2865.4 1156.7,2899.5 1228.4,2933.5 1300.1,2972.9 1350.0,3001.3 1401.6,3027.1 1453.2,3058.1 1504.8,3090.3 1556.5,3113.5 1608.1,3140.6 1659.7,3169.0 1714.3,3197.3 1757.3,3226.5 1800.4,3258.2 1843.4,3294.8 1886.4,3322.8 1920.0,3350.0 1947.3,3374.4 1990.4,3406.0 2033.4,3441.1 2076.4,3475.5 2118.5,3506.8" fill="none" stroke="#0000ff" stroke-width="11" stroke-linejoin="round" stroke-linecap="round"/>
<polyline points="413.4,2389.4 461.7,2410.9 544.1,2455.7 623.0,2495.2 712.6,2540.0 802.2,2581.2 870.0,2618.1 941.7,2657.5 1013.4,2704.1 1085.0,2754.3 1156.7,2800.9 1230.0,2844.5 1260.0,2861.0 1310.0,2895.4 1340.0,2912.5 1370.0,2933.0 1401.6,2951.0 1453.2,2985.8 1504.8,3029.7 1556.5,3060.6 1608.1,3094.2 1659.7,3132.9 1714.3,3169.4 1757.3,3207.3 1800.4,3249.6 1843.4,3290.5 1886.4,3330.6 1904.3,3348.6 1947.3,3394.5 1990.4,3433.9 2033.4,3477.0 2076.4,3522.0 2118.5,3565.0" fill="none" stroke="#00ffff" stroke-width="11" stroke-linejoin="round" stroke-linecap="round"/>
<line x1="1553.60" y1="2502.60" x2="1724.20" y2="2502.60" stroke="#000000" stroke-width="10" stroke-linecap="round"/>
<line x1="1553.60" y1="2594.00" x2="1724.20" y2="2594.00" stroke="#ff0000" stroke-width="10" stroke-linecap="round"/>
<line x1="1553.60" y1="2688.20" x2="1724.20" y2="2688.20" stroke="#00ff00" stroke-width="10" stroke-linecap="round"/>
<line x1="1553.60" y1="2782.20" x2="1724.20" y2="2782.20" stroke="#0000ff" stroke-width="10" stroke-linecap="round"/>
<line x1="1553.60" y1="2873.50" x2="1724.20" y2="2873.50" stroke="#00ffff" stroke-width="10" stroke-linecap="round"/>
<text transform="translate(119.95 1400.29) scale(0.9915 1)" font-size="55.08" font-family='"Liberation Sans", Arial, sans-serif' stroke="#000" stroke-width="1.0" stroke-linejoin="round">1.00</text>
<g transform="translate(119.95 1400.29) scale(0.9915 1)" fill="#fff"><rect x="1.65" y="-5.88" width="11.52" height="7.88"/><rect x="19.32" y="-5.88" width="10.42" height="7.88"/></g>
<text transform="translate(119.92 1069.99) scale(0.9975 1)" font-size="55.08" font-family='"Liberation Sans", Arial, sans-serif' stroke="#000" stroke-width="1.0" stroke-linejoin="round">1.02</text>
<g transform="translate(119.92 1069.99) scale(0.9975 1)" fill="#fff"><rect x="1.65" y="-5.88" width="11.52" height="7.88"/><rect x="19.32" y="-5.88" width="10.42" height="7.88"/></g>
<text transform="translate(119.97 739.69) scale(0.9861 1)" font-size="55.08" font-family='"Liberation Sans", Arial, sans-serif' stroke="#000" stroke-width="1.0" stroke-linejoin="round">1.04</text>
<g transform="translate(119.97 739.69) scale(0.9861 1)" fill="#fff"><rect x="1.65" y="-5.88" width="11.52" height="7.88"/><rect x="19.32" y="-5.88" width="10.42" height="7.88"/></g>
<text transform="translate(119.94 409.39) scale(0.9942 1)" font-size="55.08" font-family='"Liberation Sans", Arial, sans-serif' stroke="#000" stroke-width="1.0" stroke-linejoin="round">1.06</text>
<g transform="translate(119.94 409.39) scale(0.9942 1)" fill="#fff"><rect x="1.65" y="-5.88" width="11.52" height="7.88"/><rect x="19.32" y="-5.88" width="10.42" height="7.88"/></g>
<text transform="translate(119.94 79.08) scale(0.9936 1)" font-size="55.08" font-family='"Liberation Sans", Arial, sans-serif' stroke="#000" stroke-width="1.0" stroke-linejoin="round">1.08</text>
<g transform="translate(119.94 79.08) scale(0.9936 1)" fill="#fff"><rect x="1.65" y="-5.88" width="11.52" height="7.88"/><rect x="19.32" y="-5.88" width="10.42" height="7.88"/></g>
<text transform="translate(264.33 1641.16) scale(0.9602 1)" font-size="53.81" font-family='"Liberation Sans", Arial, sans-serif' stroke="#000" stroke-width="1.0" stroke-linejoin="round">0</text>
<text transform="translate(504.55 1641.16) scale(0.9683 1)" font-size="53.81" font-family='"Liberation Sans", Arial, sans-serif' stroke="#000" stroke-width="1.0" stroke-linejoin="round">5</text>
<text transform="translate(727.29 1641.16) scale(1.0344 1)" font-size="53.81" font-family='"Liberation Sans", Arial, sans-serif' stroke="#000" stroke-width="1.0" stroke-linejoin="round">10</text>
<g transform="translate(727.29 1641.16) scale(1.0344 1)" fill="#fff"><rect x="1.61" y="-5.78" width="11.24" height="7.78"/><rect x="18.89" y="-5.78" width="10.17" height="7.78"/></g>
<text transform="translate(967.57 1641.16) scale(1.0376 1)" font-size="53.81" font-family='"Liberation Sans", Arial, sans-serif' stroke="#000" stroke-width="1.0" stroke-linejoin="round">15</text>
<g transform="translate(967.57 1641.16) scale(1.0376 1)" fill="#fff"><rect x="1.61" y="-5.78" width="11.24" height="7.78"/><rect x="18.89" y="-5.78" width="10.17" height="7.78"/></g>
<text transform="translate(1209.39 1641.16) scale(1.0082 1)" font-size="53.81" font-family='"Liberation Sans", Arial, sans-serif' stroke="#000" stroke-width="1.0" stroke-linejoin="round">20</text>
<text transform="translate(1449.67 1641.16) scale(1.0111 1)" font-size="53.81" font-family='"Liberation Sans", Arial, sans-serif' stroke="#000" stroke-width="1.0" stroke-linejoin="round">25</text>
<text transform="translate(1690.64 1641.16) scale(0.9965 1)" font-size="53.81" font-family='"Liberation Sans", Arial, sans-serif' stroke="#000" stroke-width="1.0" stroke-linejoin="round">30</text>
<text transform="translate(1930.92 1641.16) scale(0.9994 1)" font-size="53.81" font-family='"Liberation Sans", Arial, sans-serif' stroke="#000" stroke-width="1.0" stroke-linejoin="round">35</text>
<text transform="translate(2172.03 1641.16) scale(0.9822 1)" font-size="53.81" font-family='"Liberation Sans", Arial, sans-serif' stroke="#000" stroke-width="1.0" stroke-linejoin="round">40</text>
<text transform="translate(139.21 3587.31) scale(0.9776 1)" font-size="55.08" font-family='"Liberation Sans", Arial, sans-serif' stroke="#000" stroke-width="1.0" stroke-linejoin="round">1.00</text>
<g transform="translate(139.21 3587.31) scale(0.9776 1)" fill="#fff"><rect x="1.65" y="-5.88" width="11.52" height="7.88"/><rect x="19.32" y="-5.88" width="10.42" height="7.88"/></g>
<text transform="translate(139.18 3261.59) scale(0.9835 1)" font-size="55.08" font-family='"Liberation Sans", Arial, sans-serif' stroke="#000" stroke-width="1.0" stroke-linejoin="round">1.02</text>
<g transform="translate(139.18 3261.59) scale(0.9835 1)" fill="#fff"><rect x="1.65" y="-5.88" width="11.52" height="7.88"/><rect x="19.32" y="-5.88" width="10.42" height="7.88"/></g>
<text transform="translate(139.23 2935.88) scale(0.9723 1)" font-size="55.08" font-family='"Liberation Sans", Arial, sans-serif' stroke="#000" stroke-width="1.0" stroke-linejoin="round">1.04</text>
<g transform="translate(139.23 2935.88) scale(0.9723 1)" fill="#fff"><rect x="1.65" y="-5.88" width="11.52" height="7.88"/><rect x="19.32" y="-5.88" width="10.42" height="7.88"/></g>
<text transform="translate(139.20 2610.16) scale(0.9803 1)" font-size="55.08" font-family='"Liberation Sans", Arial, sans-serif' stroke="#000" stroke-width="1.0" stroke-linejoin="round">1.06</text>
<g transform="translate(139.20 2610.16) scale(0.9803 1)" fill="#fff"><rect x="1.65" y="-5.88" width="11.52" height="7.88"/><rect x="19.32" y="-5.88" width="10.42" height="7.88"/></g>
<text transform="translate(139.20 2284.44) scale(0.9797 1)" font-size="55.08" font-family='"Liberation Sans", Arial, sans-serif' stroke="#000" stroke-width="1.0" stroke-linejoin="round">1.08</text>
<g transform="translate(139.20 2284.44) scale(0.9797 1)" fill="#fff"><rect x="1.65" y="-5.88" width="11.52" height="7.88"/><rect x="19.32" y="-5.88" width="10.42" height="7.88"/></g>
<text transform="translate(280.53 3826.15) scale(0.9405 1)" font-size="54.94" font-family='"Liberation Sans", Arial, sans-serif' stroke="#000" stroke-width="1.0" stroke-linejoin="round">0</text>
<text transform="translate(517.28 3826.15) scale(0.9484 1)" font-size="54.94" font-family='"Liberation Sans", Arial, sans-serif' stroke="#000" stroke-width="1.0" stroke-linejoin="round">5</text>
<text transform="translate(737.58 3826.15) scale(0.9803 1)" font-size="54.94" font-family='"Liberation Sans", Arial, sans-serif' stroke="#000" stroke-width="1.0" stroke-linejoin="round">10</text>
<g transform="translate(737.58 3826.15) scale(0.9803 1)" fill="#fff"><rect x="1.65" y="-5.87" width="11.49" height="7.87"/><rect x="19.28" y="-5.87" width="10.39" height="7.87"/></g>
<text transform="translate(974.38 3826.15) scale(0.9833 1)" font-size="54.94" font-family='"Liberation Sans", Arial, sans-serif' stroke="#000" stroke-width="1.0" stroke-linejoin="round">15</text>
<g transform="translate(974.38 3826.15) scale(0.9833 1)" fill="#fff"><rect x="1.65" y="-5.87" width="11.49" height="7.87"/><rect x="19.28" y="-5.87" width="10.39" height="7.87"/></g>
<text transform="translate(1212.68 3826.15) scale(0.9554 1)" font-size="54.94" font-family='"Liberation Sans", Arial, sans-serif' stroke="#000" stroke-width="1.0" stroke-linejoin="round">20</text>
<text transform="translate(1449.48 3826.15) scale(0.9582 1)" font-size="54.94" font-family='"Liberation Sans", Arial, sans-serif' stroke="#000" stroke-width="1.0" stroke-linejoin="round">25</text>
<text transform="translate(1686.95 3826.15) scale(0.9443 1)" font-size="54.94" font-family='"Liberation Sans", Arial, sans-serif' stroke="#000" stroke-width="1.0" stroke-linejoin="round">30</text>
<text transform="translate(1923.76 3826.15) scale(0.9471 1)" font-size="54.94" font-family='"Liberation Sans", Arial, sans-serif' stroke="#000" stroke-width="1.0" stroke-linejoin="round">35</text>
<text transform="translate(2161.37 3826.15) scale(0.9308 1)" font-size="54.94" font-family='"Liberation Sans", Arial, sans-serif' stroke="#000" stroke-width="1.0" stroke-linejoin="round">40</text>
<text transform="translate(1048.37 1757.30) scale(0.9935 1)" font-size="77.76" font-family='"Liberation Sans", Arial, sans-serif' stroke="#000" stroke-width="1.0" stroke-linejoin="round">Depth (cm)</text>
<text transform="translate(1051.89 3939.10) scale(1.0078 1)" font-size="76.31" font-family='"Liberation Sans", Arial, sans-serif' stroke="#000" stroke-width="1.0" stroke-linejoin="round">Depth (cm)</text>
<text transform="translate(87.00 886.69) rotate(-90) scale(0.9224 1)" font-size="83.14" font-family='"Liberation Sans", Arial, sans-serif' stroke="#000" stroke-width="1.0" stroke-linejoin="round">DER</text>
<text transform="translate(106.80 3080.89) rotate(-90) scale(0.9706 1)" font-size="77.76" font-family='"Liberation Sans", Arial, sans-serif' stroke="#000" stroke-width="1.0" stroke-linejoin="round">DER</text>
<text transform="translate(1527.67 140.30) scale(0.9624 1)" font-size="53.78" font-family='"Liberation Sans", Arial, sans-serif' stroke="#000" stroke-width="1.0" stroke-linejoin="round">10 MV FF</text>
<g transform="translate(1527.67 140.30) scale(0.9624 1)" fill="#fff"><rect x="1.61" y="-5.78" width="11.24" height="7.78"/><rect x="18.88" y="-5.78" width="10.16" height="7.78"/></g>
<text transform="translate(1524.15 234.70) scale(1.0036 1)" font-size="52.91" font-family='"Liberation Sans", Arial, sans-serif' stroke="#000" stroke-width="1.0" stroke-linejoin="round">NP Concentration (mg/mL)</text>
<text transform="translate(1555.34 2339.90) scale(0.9289 1)" font-size="54.65" font-family='"Liberation Sans", Arial, sans-serif' stroke="#000" stroke-width="1.0" stroke-linejoin="round">10 MV FFF</text>
<g transform="translate(1555.34 2339.90) scale(0.9289 1)" fill="#fff"><rect x="1.64" y="-5.84" width="11.43" height="7.84"/><rect x="19.18" y="-5.84" width="10.33" height="7.84"/></g>
<text transform="translate(1551.60 2433.70) scale(0.9917 1)" font-size="52.91" font-family='"Liberation Sans", Arial, sans-serif' stroke="#000" stroke-width="1.0" stroke-linejoin="round">NP Concentration (mg/mL)</text>
<text transform="translate(1714.06 328.49) scale(0.9438 1)" font-size="51.41" font-family='"Liberation Sans", Arial, sans-serif' stroke="#000" stroke-width="1.0" stroke-linejoin="round">3</text>
<text transform="translate(1713.30 423.09) scale(0.9918 1)" font-size="51.41" font-family='"Liberation Sans", Arial, sans-serif' stroke="#000" stroke-width="1.0" stroke-linejoin="round">7</text>
<text transform="translate(1714.20 517.79) scale(0.9970 1)" font-size="51.41" font-family='"Liberation Sans", Arial, sans-serif' stroke="#000" stroke-width="1.0" stroke-linejoin="round">18</text>
<g transform="translate(1714.20 517.79) scale(0.9970 1)" fill="#fff"><rect x="1.54" y="-5.60" width="10.71" height="7.60"/><rect x="18.08" y="-5.60" width="9.68" height="7.60"/></g>
<text transform="translate(1713.99 612.49) scale(0.9772 1)" font-size="51.41" font-family='"Liberation Sans", Arial, sans-serif' stroke="#000" stroke-width="1.0" stroke-linejoin="round">30</text>
<text transform="translate(1714.76 706.69) scale(0.9633 1)" font-size="51.41" font-family='"Liberation Sans", Arial, sans-serif' stroke="#000" stroke-width="1.0" stroke-linejoin="round">40</text>
<text transform="translate(1736.86 2526.68) scale(0.9412 1)" font-size="51.55" font-family='"Liberation Sans", Arial, sans-serif' stroke="#000" stroke-width="1.0" stroke-linejoin="round">3</text>
<text transform="translate(1736.08 2618.08) scale(0.9976 1)" font-size="51.55" font-family='"Liberation Sans", Arial, sans-serif' stroke="#000" stroke-width="1.0" stroke-linejoin="round">7</text>
<text transform="translate(1738.25 2712.28) scale(0.9318 1)" font-size="51.55" font-family='"Liberation Sans", Arial, sans-serif' stroke="#000" stroke-width="1.0" stroke-linejoin="round">18</text>
<g transform="translate(1738.25 2712.28) scale(0.9318 1)" fill="#fff"><rect x="1.55" y="-5.61" width="10.74" height="7.61"/><rect x="18.13" y="-5.61" width="9.71" height="7.61"/></g>
<text transform="translate(1736.83 2806.28) scale(0.9539 1)" font-size="51.55" font-family='"Liberation Sans", Arial, sans-serif' stroke="#000" stroke-width="1.0" stroke-linejoin="round">30</text>
<text transform="translate(1737.59 2897.58) scale(0.9403 1)" font-size="51.55" font-family='"Liberation Sans", Arial, sans-serif' stroke="#000" stroke-width="1.0" stroke-linejoin="round">40</text>
<text transform="translate(1165.80 1983.54) scale(0.8710 1)" font-size="86.22" font-family='"Liberation Serif", "Times New Roman", serif'>(</text>
<text transform="translate(1193.05 1983.04) scale(0.9265 1)" font-size="86.01" font-family='"Liberation Serif", "Times New Roman", serif' font-weight="bold">a</text>
<text transform="translate(1234.80 1983.54) scale(0.8710 1)" font-size="86.22" font-family='"Liberation Serif", "Times New Roman", serif'>)</text>
<text transform="translate(1161.15 4159.84) scale(0.8575 1)" font-size="86.22" font-family='"Liberation Serif", "Times New Roman", serif'>(</text>
<text transform="translate(1187.23 4160.01) scale(1.0019 1)" font-size="89.49" font-family='"Liberation Serif", "Times New Roman", serif' font-weight="bold">b</text>
<text transform="translate(1239.15 4159.84) scale(0.8530 1)" font-size="86.22" font-family='"Liberation Serif", "Times New Roman", serif'>)</text>
</svg></body></html>
